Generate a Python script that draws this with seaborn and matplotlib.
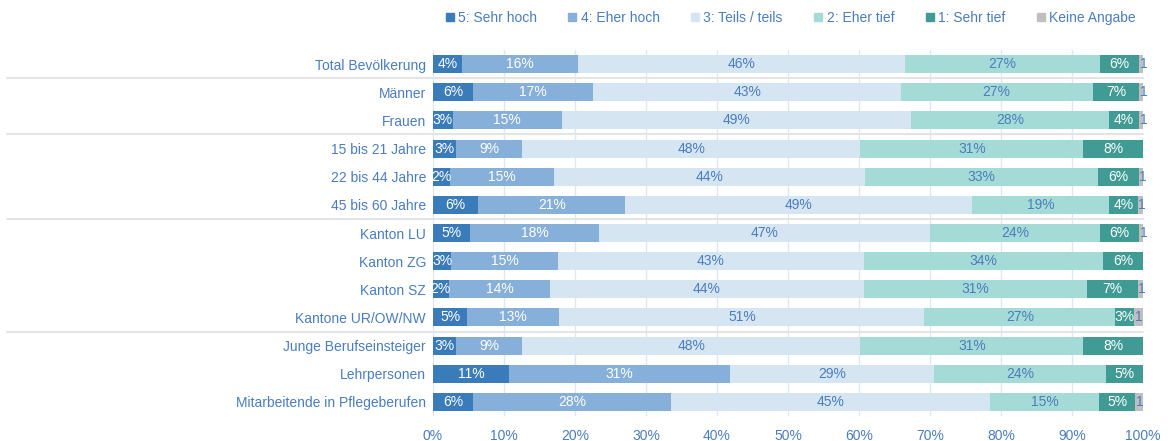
import pandas as pd
import seaborn as sns
import matplotlib.pyplot as plt
from matplotlib.lines import Line2D

gruppen = ['Total Bevölkerung', 'Männer', 'Frauen', '15 bis 21 Jahre', '22 bis 44 Jahre',
           '45 bis 60 Jahre', 'Kanton LU', 'Kanton ZG', 'Kanton SZ', 'Kantone UR/OW/NW',
           'Junge Berufseinsteiger', 'Lehrpersonen', 'Mitarbeitende in Pflegeberufen']
stufen = ['5: Sehr hoch', '4: Eher hoch', '3: Teils / teils', '2: Eher tief', '1: Sehr tief', 'Keine Angabe']

sehr_hoch = [4.1, 5.6, 2.8, 3.3, 2.4, 6.4, 5.2, 2.6, 2.2, 4.8, 3.3, 10.7, 5.6]
eher_hoch = [16.3, 17.0, 15.3, 9.3, 14.7, 20.7, 18.2, 15.0, 14.3, 13.0, 9.3, 31.2, 27.9]
teils = [46.1, 43.3, 49.2, 47.6, 43.7, 48.8, 46.6, 43.1, 44.2, 51.4, 47.6, 28.7, 45.0]
eher_tief = [27.4, 27.0, 27.9, 31.4, 32.8, 19.3, 23.9, 33.7, 31.4, 26.9, 31.4, 24.2, 15.3]
sehr_tief = [5.6, 6.6, 4.3, 8.4, 5.85, 4.1, 5.6, 5.6, 7.2, 2.7, 8.4, 5.2, 5.1]
keine = [0.5, 0.5, 0.5, 0.0, 0.55, 0.7, 0.5, 0.0, 0.7, 1.2, 0.0, 0.0, 1.1]

farben = ['#3a7bb9', '#86afd9', '#d6e5f2', '#a5dbd6', '#3f9b93', '#bfbfbf']
textfarben = ['white', 'white', '#4a7dbf', '#4a7dbf', 'white', '#4a7dbf']
blau = '#4a7dbf'

serien = [sehr_hoch, eher_hoch, teils, eher_tief, sehr_tief, keine]
df = pd.DataFrame({s: v for s, v in zip(stufen, serien)}, index=gruppen)
kum = df.cumsum(axis=1)

sns.set_style('white')
plt.rcParams['font.family'] = ['Liberation Sans', 'DejaVu Sans']

fig, ax = plt.subplots(figsize=(11.73, 4.41), dpi=100)
fig.subplots_adjust(left=433 / 1173, right=1143 / 1173, top=1 - 50 / 441, bottom=1 - 416 / 441)

# gestapelte Balken: kumulierte Summen von hinten nach vorne zeichnen
for i in range(len(stufen) - 1, -1, -1):
    d = pd.DataFrame({'gruppe': gruppen, 'wert': kum[stufen[i]].values})
    sns.barplot(data=d, x='wert', y='gruppe', order=gruppen, orient='h', color=farben[i],
                saturation=1, width=0.64, linewidth=0, errorbar=None, ax=ax, zorder=2)

# Beschriftungen
for r, g in enumerate(gruppen):
    links = 0
    for i, s in enumerate(stufen):
        v = df.loc[g, s]
        if v > 0:
            if i == 5:
                # kleine Restkategorie: Beschriftung nur angeschnitten
                ax.text(links + 0.05, r, "1", ha='left', va='center', color=textfarben[i],
                        fontsize=10, zorder=4)
            else:
                ax.text(links + v / 2, r, f"{round(v)}%", ha='center', va='center',
                        color=textfarben[i], fontsize=10, zorder=4)
        links += v

ax.set_xlim(0, 100)
ax.set_ylim(len(gruppen) - 0.5, -0.5)
ax.set_xticks(range(0, 101, 10))
ax.set_xticklabels([f"{t}%" for t in range(0, 101, 10)])
ax.set_xlabel('')
ax.set_ylabel('')
ax.tick_params(axis='both', length=0, labelsize=10, labelcolor=blau)
ax.tick_params(axis='x', pad=9)
ax.tick_params(axis='y', pad=5)
ax.xaxis.grid(True, color='#dde7f2', linewidth=1, zorder=0)
ax.set_axisbelow(True)
sns.despine(ax=ax, left=True, bottom=True)

# Trennlinien zwischen den Gruppen
for y in [0.5, 2.5, 5.5, 9.5]:
    ax.plot([-0.6, 1.0], [y, y], transform=ax.get_yaxis_transform(), color='#e4e4e4',
            linewidth=1.5, clip_on=False, zorder=1)

handles = [Line2D([0], [0], marker='s', linestyle='', markersize=6, color=c) for c in farben]
fig.legend(handles, stufen, loc='center', bbox_to_anchor=(0.674, 1 - 18 / 441), ncol=6,
           frameon=False, fontsize=10, labelcolor=blau, handlelength=0.6, handletextpad=0.3,
           columnspacing=2.25)

fig.savefig('out.png', dpi=100)
